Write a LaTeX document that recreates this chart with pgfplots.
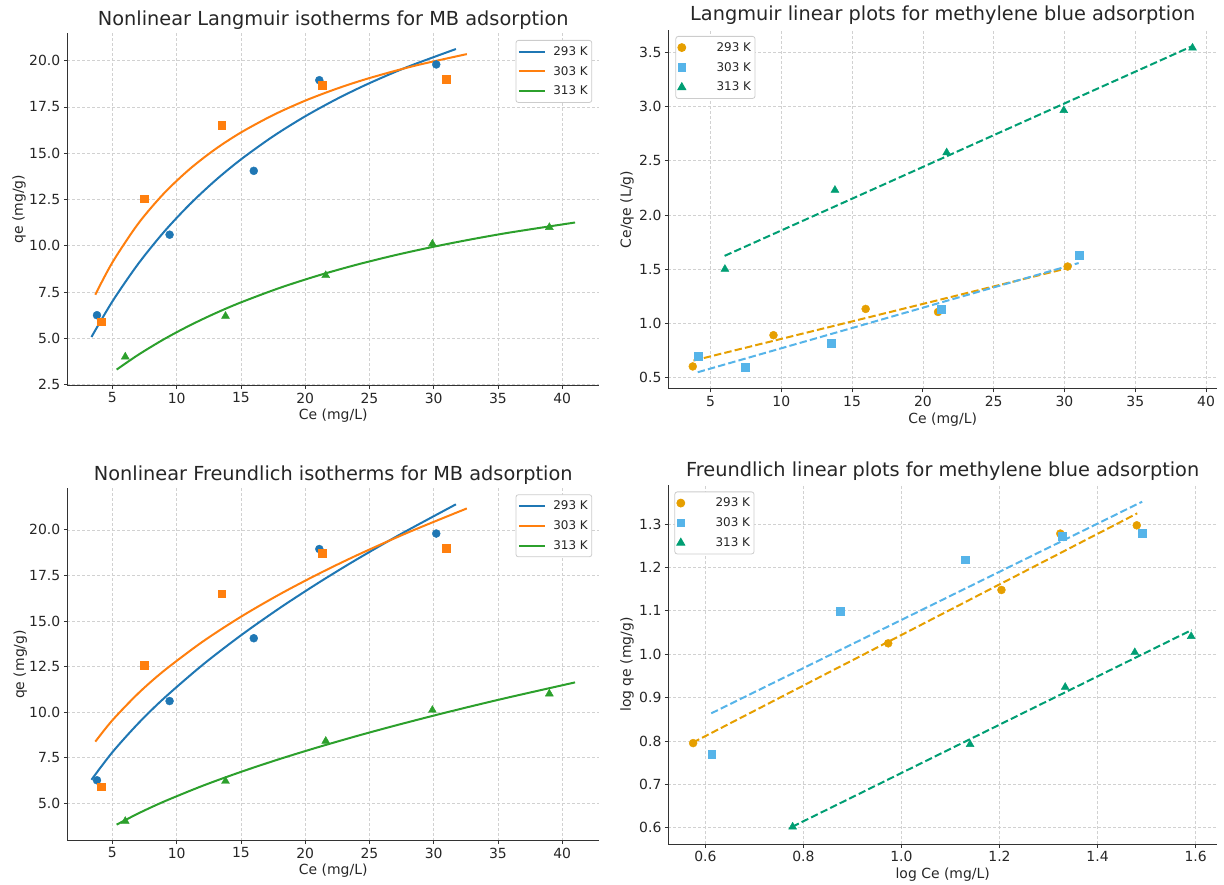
\documentclass[border=0pt]{standalone}
\usepackage{fontspec}
\setmainfont{DejaVu Sans}
\usepackage{pgfplots}
\pgfplotsset{compat=1.18}

\definecolor{tabblue}{HTML}{1F77B4}
\definecolor{taborange}{HTML}{FF7F0E}
\definecolor{tabgreen}{HTML}{2CA02C}
\definecolor{okorange}{HTML}{E69F00}
\definecolor{okblue}{HTML}{56B4E9}
\definecolor{okgreen}{HTML}{009E73}

\pgfplotsset{
  mypanel/.style={
    scale only axis, enlargelimits=false,
    axis x line*=bottom, axis y line*=left,
    xtick pos=left, ytick pos=left,
    axis line style={-, line width=1bp, black!80},
    tick align=outside, major tick length=3.5bp,
    tick style={line width=0.8bp, black!80},
    grid=major, grid style={dash pattern=on 3bp off 2bp, line width=0.6bp, black!18},
    /pgf/number format/assume math mode=true,
    tick label style={font=\fontsize{14}{14}\selectfont, text=black!85},
    label style={font=\fontsize{14}{16}\selectfont, text=black!85},
    title style={font=\fontsize{19.4}{22}\selectfont, text=black!85,
      at={(axis description cs:0.5,1)}, anchor=base},
    legend style={draw=black!20, line width=0.8bp, rounded corners=2.5bp,
      fill=white, font=\fontsize{12}{12}\selectfont, text=black!85,
      inner xsep=2bp, inner ysep=4bp, row sep=5.5bp, column sep=5.4bp,
      nodes={inner sep=2bp}},
    legend cell align=left,
  },
  myoneplace/.style={yticklabel style={/pgf/number format/.cd, fixed, fixed zerofill, precision=1}},
  mylinelegend/.style={legend image code/.code={\draw[sharp corners,##1] (0bp,0bp) -- (26bp,0bp);}},
  myscatlegend/.style={legend image code/.code={%
    \node[draw=none, fill=none, inner sep=0pt, minimum width=27bp, minimum height=2bp] at (13.5bp,0bp) {};
    \draw[sharp corners,##1] plot coordinates {(13.5bp,0bp)};}},
  myfit/.style={line width=2bp, smooth, tension=0.5},
  mydash/.style={line width=2bp, dash pattern=on 7.4bp off 3.2bp},
  mycirc/.style={only marks, mark=*, mark size=4bp},
  mysq/.style={only marks, mark=square*, mark size=3.9bp},
  mytri/.style={only marks, mark=triangle*, mark size=4.6bp},
}

\begin{document}
\begin{tikzpicture}
\useasboundingbox (0,0) rectangle (1224bp,885bp);

% top left: nonlinear Langmuir
\begin{axis}[mypanel, myoneplace, mylinelegend,
  at={(67.3bp,499.3bp)}, anchor=south west, width=531.9bp, height=352.7bp,
  xmin=1.49, xmax=42.88, ymin=2.44, ymax=21.5,
  xtick={5,10,15,20,25,30,35,40}, ytick={2.5,5,7.5,10,12.5,15,17.5,20},
  title={Nonlinear Langmuir isotherms for MB adsorption}, title style={yshift=1.5bp},
  xlabel={Ce (mg/L)}, ylabel={qe (mg/g)},
  xlabel style={at={(axis description cs:0.5,-0.0845)}, anchor=center},
  ylabel style={at={(axis description cs:-0.0908,0.5)}, anchor=center},
  legend style={at={(axis description cs:1,1)}, anchor=north east, xshift=-7bp, yshift=-7bp},
]
\addplot[mycirc, tabblue, forget plot] coordinates {(3.8,6.25)(9.45,10.6)(16,14.05)(21.1,18.95)(30.2,19.8)};
\addplot[mysq, taborange, forget plot] coordinates {(4.1,5.9)(7.5,12.55)(13.5,16.5)(21.3,18.7)(31,19.0)};
\addplot[mytri, tabgreen, forget plot] coordinates {(6,4.0)(13.8,6.2)(21.6,8.4)(29.9,10.1)(39,11.0)};
\addplot[myfit, tabblue] coordinates {
  (3.37,5.071)(5,6.995)(7,9.016)(9,10.740)(11,12.228)(13,13.526)(15,14.667)
  (17.5,15.914)(20,16.997)(22.5,17.948)(25,18.788)(28,19.677)(31.73,20.633)};
\addlegendentry{293 K}
\addplot[myfit, taborange] coordinates {
  (3.67,7.359)(5,9.102)(7,11.190)(9,12.825)(11,14.139)(13,15.219)(15,16.122)
  (17.5,17.062)(20,17.843)(22.5,18.501)(25,19.063)(28.5,19.726)(32.58,20.359)};
\addlegendentry{303 K}
\addplot[myfit, tabgreen] coordinates {
  (5.33,3.310)(7,4.104)(9,4.947)(11,5.690)(13,6.351)(15,6.941)(18,7.720)
  (21,8.391)(24,8.977)(27,9.493)(30,9.950)(33,10.358)(36,10.725)(41,11.259)};
\addlegendentry{313 K}
\end{axis}

% top right: Langmuir linear
\begin{axis}[mypanel, myoneplace,
  at={(668.4bp,496bp)}, anchor=south west, width=548.6bp, height=359bp,
  xmin=2.03, xmax=40.77, ymin=0.396, ymax=3.705,
  xtick={5,10,15,20,25,30,35,40}, ytick={0.5,1,1.5,2,2.5,3,3.5},
  title={Langmuir linear plots for methylene blue adsorption}, title style={yshift=3.1bp},
  xlabel={Ce (mg/L)}, ylabel={Ce/qe (L/g)},
  xlabel style={at={(axis description cs:0.5,-0.0864)}, anchor=center},
  ylabel style={at={(axis description cs:-0.0755,0.5)}, anchor=center},
  legend style={at={(axis description cs:0,1)}, anchor=north west, xshift=7bp, yshift=-6bp},
]
\addplot[mycirc, okorange, myscatlegend] coordinates {(3.75,0.604)(9.45,0.892)(15.96,1.134)(21.07,1.106)(30.22,1.525)};
\addlegendentry{293 K}
\addplot[mysq, okblue, myscatlegend] coordinates {(4.12,0.699)(7.47,0.598)(13.52,0.815)(21.32,1.134)(31.02,1.626)};
\addlegendentry{303 K}
\addplot[mytri, okgreen, myscatlegend] coordinates {(6.02,1.501)(13.79,2.229)(21.68,2.575)(29.95,2.964)(39.04,3.54)};
\addlegendentry{313 K}
\addplot[mydash, okorange, forget plot] coordinates {(3.8,0.658)(30.2,1.509)};
\addplot[mydash, okblue, forget plot] coordinates {(4.1,0.5505)(31,1.557)};
\addplot[mydash, okgreen, forget plot] coordinates {(6,1.623)(39,3.555)};
\end{axis}

% bottom left: nonlinear Freundlich
\begin{axis}[mypanel, myoneplace, mylinelegend,
  at={(67.3bp,44.3bp)}, anchor=south west, width=531.9bp, height=352.4bp,
  xmin=1.49, xmax=42.88, ymin=2.93, ymax=22.285,
  xtick={5,10,15,20,25,30,35,40}, ytick={5,7.5,10,12.5,15,17.5,20},
  title={Nonlinear Freundlich isotherms for MB adsorption}, title style={yshift=2bp},
  xlabel={Ce (mg/L)}, ylabel={qe (mg/g)},
  xlabel style={at={(axis description cs:0.5,-0.084)}, anchor=center},
  ylabel style={at={(axis description cs:-0.0884,0.5)}, anchor=center},
  legend style={at={(axis description cs:1,1)}, anchor=north east, xshift=-7bp, yshift=-6bp},
]
\addplot[mycirc, tabblue, forget plot] coordinates {(3.8,6.25)(9.45,10.6)(16,14.05)(21.1,18.95)(30.2,19.8)};
\addplot[mysq, taborange, forget plot] coordinates {(4.1,5.9)(7.5,12.55)(13.5,16.5)(21.3,18.7)(31,19.0)};
\addplot[mytri, tabgreen, forget plot] coordinates {(6,4.0)(13.8,6.2)(21.6,8.4)(29.9,10.1)(39,11.0)};
\addplot[myfit, tabblue] coordinates {
  (3.37,6.278)(5,7.790)(7,9.364)(9,10.744)(12,12.575)(15,14.207)(18,15.698)
  (21,17.079)(24,18.374)(27.5,19.794)(31.73,21.405)};
\addlegendentry{293 K}
\addplot[myfit, taborange] coordinates {
  (3.67,8.370)(5,9.546)(7,11.014)(9,12.256)(12,13.851)(15,15.230)(18,16.457)
  (21,17.571)(24,18.598)(28,19.857)(32.58,21.179)};
\addlegendentry{303 K}
\addplot[myfit, tabgreen] coordinates {
  (5.33,3.811)(7,4.423)(9,5.075)(12,5.940)(15,6.709)(18,7.413)(21,8.064)
  (24,8.676)(27,9.252)(30,9.800)(33,10.325)(36,10.827)(41,11.624)};
\addlegendentry{313 K}
\end{axis}

% bottom right: Freundlich linear
\begin{axis}[mypanel, myoneplace,
  at={(668.4bp,40.7bp)}, anchor=south west, width=548.6bp, height=359.3bp,
  xmin=0.5246, xmax=1.6437, ymin=0.5617, ymax=1.39,
  xtick={0.6,0.8,1.0,1.2,1.4,1.6}, ytick={0.6,0.7,0.8,0.9,1.0,1.1,1.2,1.3},
  xticklabel style={/pgf/number format/.cd, fixed, fixed zerofill, precision=1},
  title={Freundlich linear plots for methylene blue adsorption}, title style={yshift=2.7bp},
  xlabel={log Ce (mg/L)}, ylabel={log qe (mg/g)},
  xlabel style={at={(axis description cs:0.5,-0.0854)}, anchor=center},
  ylabel style={at={(axis description cs:-0.0755,0.5)}, anchor=center},
  legend style={at={(axis description cs:0,1)}, anchor=north west, xshift=6bp, yshift=-6.5bp},
]
\addplot[mycirc, okorange, myscatlegend] coordinates {(0.575,0.795)(0.973,1.025)(1.204,1.148)(1.324,1.278)(1.48,1.297)};
\addlegendentry{293 K}
\addplot[mysq, okblue, myscatlegend] coordinates {(0.613,0.769)(0.875,1.099)(1.130,1.218)(1.328,1.272)(1.491,1.279)};
\addlegendentry{303 K}
\addplot[mytri, okgreen, myscatlegend] coordinates {(0.778,0.602)(1.140,0.792)(1.334,0.924)(1.476,1.004)(1.591,1.041)};
\addlegendentry{313 K}
\addplot[mydash, okorange, forget plot] coordinates {(0.574,0.796)(1.481,1.3246)};
\addplot[mydash, okblue, forget plot] coordinates {(0.612,0.8636)(1.491,1.3515)};
\addplot[mydash, okgreen, forget plot] coordinates {(0.777,0.602)(1.592,1.0557)};
\end{axis}
\end{tikzpicture}
\end{document}
